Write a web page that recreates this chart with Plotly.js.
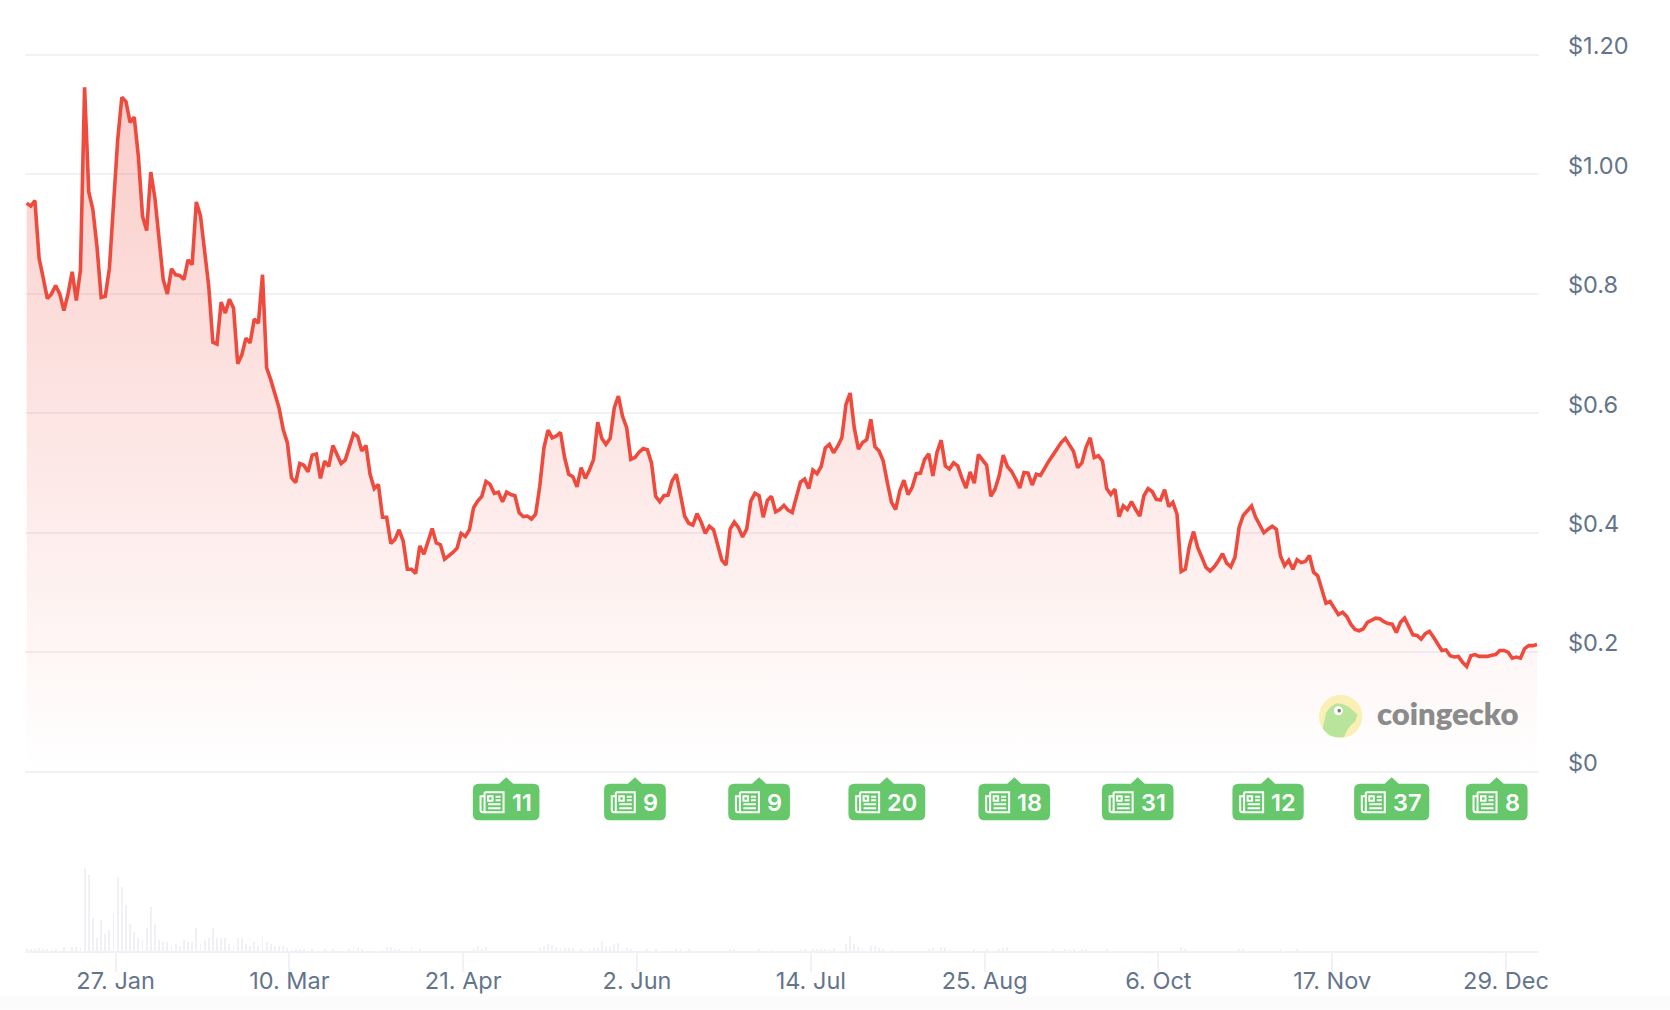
<!DOCTYPE html>
<html>
<head>
<meta charset="utf-8">
<script src="https://cdn.plot.ly/plotly-3.0.1.min.js"></script>
<style>html,body{margin:0;padding:0;background:#fff}#chart{width:1670px;height:1010px}</style>
</head>
<body>
<div id="chart"></div>
<script>
// ---------- data ----------
const firstDay = Date.UTC(2025, 0, 5, 12);
const priceUsd = [
.952,.947,.956,.860,.827,.792,.800,.814,.800,.772,
.800,.837,.789,.840,1.146,.971,.941,.879,.794,.796,
.843,.957,1.058,1.129,1.122,1.087,1.096,1.030,.930,.906,
1.004,.960,.885,.824,.800,.842,.832,.831,.824,.857,
.849,.954,.931,.877,.813,.719,.716,.786,.768,.791,
.776,.683,.698,.726,.718,.758,.751,.832,.676,.656,
.634,.609,.573,.551,.492,.484,.516,.513,.502,.530,
.532,.491,.520,.511,.546,.529,.516,.522,.542,.566,
.561,.537,.546,.498,.474,.481,.426,.426,.382,.389,
.405,.386,.339,.339,.332,.378,.364,.386,.407,.383,
.380,.356,.361,.367,.374,.399,.394,.405,.442,.453,
.461,.486,.481,.466,.468,.452,.468,.464,.462,.434,
.427,.428,
.423,.431,.478,.542,.572,.559,.562,.568,.526,.498,
.494,.477,.509,.491,.505,.523,.585,.558,.548,.558,
.609,.629,.595,.576,.523,.526,.535,.541,.539,.517,
.461,.452,.462,.463,.487,.498,.464,.428,.416,.413,
.432,.418,.399,.411,.405,.378,.354,.346,.406,.418,
.409,.393,.406,.453,.466,.462,.426,.454,.461,.435,
.439,.446,
.438,.434,.457,.485,.490,.474,.505,.499,.511,.542,
.548,.534,.545,.559,.615,.634,.576,.540,.551,.556,
.590,.544,.537,.520,.484,.451,.439,.470,.488,.464,
.476,.499,.500,.523,.532,.495,.535,.555,.512,.507,
.517,.512,.492,.475,.502,.483,.531,.523,.513,.461,
.473,.495,.530,.511,.503,.490,.475,.501,.500,.480,
.498,
.496,.509,.520,.530,.540,.551,.558,.546,.536,.509,
.517,.543,.559,.526,.529,.520,.474,.464,.473,.427,
.445,.439,.452,.439,.428,.462,.474,.469,.456,.455,
.472,.444,.451,.431,.335,.339,.378,.402,.375,.359,
.342,.336,.343,.353,.365,.349,.343,.359,.409,.429,
.438,.445,.426,.413,.400,.406,.411,.406,.361,.345,
.354,.339,
.355,.350,.352,.362,
.334,.328,.306,.282,.285,.275,.263,.267,.260,.247,
.238,.236,.239,.250,.254,.257,.256,.251,.248,.247,
.233,.250,.257,.242,.229,.228,.222,.231,.235,.225,
.214,.203,.204,.194,.192,.193,.183,.176,.194,.196,
.193,.193,.193,.195,.196,.203,.203,.200,.190,.192,
.190,.206,.211,.211,.213
];
const volumeDayIndex = [
0,1,2,3,4,5,6,7,9,11,12,13,14,15,16,17,18,19,20,21,22,23,24,25,26,27,28,29,30,31,32,33,34,35,36,37,38,39,40,41,42,43,44,45,46,47,48,49,50,51,52,53,54,55,56,57,58,59,60,61,62,63,64,65,66,67,69,72,74,78,79,80,81,86,87,88,89,90,93,95,108,109,110,111,
124,125,126,127,128,129,130,131,132,134,136,137,138,139,140,141,142,143,144,145,146,150,152,157,158,160,170,171,177,180,187,188,190,191,192,193,194,195,198,199,200,201,202,204,205,206,207,209,218,219,221,222,223,229,232,235,236,237,248,251,252,253,255,256,261,279,280,293,294,303,307
];
const volumeMillions = [
2,2,2,3,2,2,2,2,4,4,4,4,84,77,33,13,31,17,21,38,75,65,47,27,19,13,11,23,45,27,11,9,9,5,7,5,11,9,9,23,7,11,13,23,13,13,13,7,5,13,13,7,5,9,5,15,9,7,5,5,5,3,2,2,2,2,2,2,2,2,5,3,2,2,4,4,2,2,4,2,2,5,2,4,
3,5,7,6,4,3,3,3,3,2,3,3,4,10,4,4,7,8,3,3,2,2,2,2,2,2,2,2,2,2,2,2,2,2,2,2,2,3,7,15,7,4,3,5,5,3,2,2,2,3,4,4,2,2,2,2,3,4,2,2,2,2,2,2,2,4,2,2,2,2,2
];
const tickDates = ['2025-01-27','2025-03-10','2025-04-21','2025-06-02','2025-07-14','2025-08-25','2025-10-06','2025-11-17','2025-12-29'];
const tickLabels = ['27. Jan','10. Mar','21. Apr','2. Jun','14. Jul','25. Aug','6. Oct','17. Nov','29. Dec'];
const priceTicks = [0,0.2,0.4,0.6,0.8,1,1.2];
const priceTickLabels = ['$0','$0.2','$0.4','$0.6','$0.8','$1.00','$1.20'];
const newsDates = ['2025-05-01T09:00','2025-06-01T12:00','2025-07-01T12:00','2025-08-01T09:00','2025-09-01T04:00','2025-10-01T00:00','2025-11-01T12:00','2025-12-01T09:00','2025-12-26T18:00'];
const newsCounts = ['11','9','9','20','18','31','12','37','8'];

// ---------- helpers ----------
const DAY = 86400000;
const dayDate = i => new Date(firstDay + i * DAY).toISOString().slice(0, 19);
const LABEL = '#64748b', GRID = '#f1f1f6', FONT = 'Inter, sans-serif';
const W = 1670, H = 1010, L = 25, R = 131, T = 51.7, BASE = 951.5, B = H - BASE;
const plotW = W - L - R, plotH = H - T - B;
const badgeAnchor = (BASE - 773) / plotH;    // badges hang from here
const priceBottom = (BASE - 775) / plotH;    // range starts a hair below $0 so its grid line is drawn

const ctx = document.createElement('canvas').getContext('2d');
ctx.font = '600 23.5px Inter';

function badgePath(hw) {
  const top = -11, bot = -47.7, r = 6;
  return `M${-hw + r},${top} H-7 L0,-4.5 L7,${top} H${hw - r} Q${hw},${top} ${hw},${top - r} V${bot + r} Q${hw},${bot} ${hw - r},${bot} H${-hw + r} Q${-hw},${bot} ${-hw},${bot + r} V${top - r} Q${-hw},${top} ${-hw + r},${top} Z`;
}
function iconPath(x, y) {
  const X = v => x + v, Y = v => y - v;
  return `M${X(4)},${Y(0)} H${X(23)} V${Y(20)} H${X(2.5)} Q${X(0)},${Y(20)} ${X(0)},${Y(17.5)} V${Y(4)} H${X(4)} ` +
    `M${X(4)},${Y(0)} V${Y(17.5)} Q${X(4)},${Y(20)} ${X(2.5)},${Y(20)} ` +
    `M${X(7.5)},${Y(4)} H${X(12)} V${Y(8.5)} H${X(7.5)} Z ` +
    `M${X(15)},${Y(4.5)} H${X(20)} M${X(15)},${Y(8)} H${X(20)} M${X(7.5)},${Y(12)} H${X(20)} M${X(7.5)},${Y(16)} H${X(20)}`;
}

const shapes = [{
  type: 'rect', xref: 'paper', yref: 'paper', layer: 'below',
  x0: -L / plotW, x1: 1 + R / plotW, y0: -B / plotH, y1: (BASE - 997) / plotH,
  fillcolor: '#fbfbfb', line: { width: 0 }
}];
const annotations = [];

newsDates.forEach((d, k) => {
  const textW = ctx.measureText(newsCounts[k]).width;
  const hw = (7.7 + 23.3 + 8.2 + textW + 7.5) / 2;
  const common = { xref: 'x', yref: 'paper', xsizemode: 'pixel', ysizemode: 'pixel', xanchor: d, yanchor: badgeAnchor, layer: 'above' };
  shapes.push(Object.assign({ type: 'path', path: badgePath(hw), fillcolor: '#66c86b', line: { width: 0 } }, common));
  shapes.push(Object.assign({ type: 'path', path: iconPath(-hw + 7.7, -19.5), line: { color: '#ffffff', width: 2 } }, common));
  annotations.push({
    xref: 'x', yref: 'paper', x: d, y: badgeAnchor, xanchor: 'left', yanchor: 'middle',
    xshift: -hw + 37, yshift: -29.5, showarrow: false, text: newsCounts[k],
    font: { family: FONT, size: 23.5, color: '#ffffff', weight: 600 }
  });
});

// CoinGecko mark
const logoX = (1340.7 - L) / plotW, logoY = (BASE - 716.7) / plotH;
const logoRef = { xref: 'paper', yref: 'paper', xsizemode: 'pixel', ysizemode: 'pixel', xanchor: logoX, yanchor: logoY, layer: 'above', line: { width: 0 } };
shapes.push(Object.assign({ type: 'circle', x0: -21.6, x1: 21.6, y0: -21.6, y1: 21.6, fillcolor: '#faefb4' }, logoRef));
shapes.push(Object.assign({ type: 'path', path: 'M-18,-12 L-14.7,3.3 Q-11,10 -5,12.7 Q3,13.5 9.3,8.3 L17,1.7 L14.3,-5 Q7,-10 3.3,-20.7 Q-4,-22 -11,-19 Q-15,-16 -18,-12 Z', fillcolor: '#b8e59b' }, logoRef));
shapes.push(Object.assign({ type: 'circle', x0: -6.8, x1: 2.2, y0: 1.2, y1: 10.2, fillcolor: '#ffffff' }, logoRef));
shapes.push(Object.assign({ type: 'circle', x0: -3.2, x1: 0.2, y0: 3.8, y1: 7.6, fillcolor: '#77797a' }, logoRef));
annotations.push({
  xref: 'paper', yref: 'paper', x: (1375 - L) / plotW, y: (BASE - 713) / plotH, xanchor: 'left', yanchor: 'middle',
  showarrow: false, text: 'coingecko', font: { family: 'Lato, sans-serif', size: 31, color: '#8b8b8b', weight: 800 }
});

// ---------- traces ----------
const price = {
  type: 'scatter', mode: 'lines', xaxis: 'x', yaxis: 'y',
  x: priceUsd.map((_, i) => dayDate(i)), y: priceUsd,
  line: { color: '#ee4b3e', width: 3.6, shape: 'linear' },
  fill: 'tozeroy',
  fillgradient: {
    type: 'vertical', start: 0, stop: 1.15,
    colorscale: [[0, 'rgba(238,75,62,0.0)'], [1, 'rgba(238,75,62,0.28)']]
  },
  hoverinfo: 'skip', showlegend: false
};
const volume = {
  type: 'bar', xaxis: 'x', yaxis: 'y2',
  x: volumeDayIndex.map(dayDate), y: volumeMillions,
  width: 0.45 * DAY,
  marker: { color: '#f0f0f5', line: { width: 0 } },
  hoverinfo: 'skip', showlegend: false
};

const layout = {
  width: W, height: H,
  margin: { l: L, r: R, t: T, b: B, pad: 0 },
  paper_bgcolor: 'rgba(0,0,0,0)', plot_bgcolor: 'rgba(0,0,0,0)',
  showlegend: false, hovermode: false,
  bargap: 0,
  xaxis: {
    type: 'date', anchor: 'y2',
    range: ['2025-01-05 02:24', '2026-01-05 23:20'],
    tickmode: 'array', tickvals: tickDates, ticktext: tickLabels,
    ticks: 'outside', ticklen: 19, tickwidth: 2, tickcolor: GRID,
    ticklabelstandoff: -11,
    showgrid: false, zeroline: false,
    showline: true, linecolor: GRID, linewidth: 2,
    tickfont: { family: FONT, size: 23.5, color: LABEL }, tickangle: 0
  },
  yaxis: {
    domain: [priceBottom, 1], range: [-0.005, 1.205], anchor: 'x', side: 'right',
    tickmode: 'array', tickvals: priceTicks, ticktext: priceTickLabels,
    ticks: '', ticklabelstandoff: 28, ticklabelshift: -9,
    showgrid: true, gridcolor: GRID, gridwidth: 2,
    zeroline: false, showline: false,
    tickfont: { family: FONT, size: 23.5, color: LABEL }
  },
  yaxis2: {
    domain: [0, (BASE - 868) / plotH], range: [0, 84.5], anchor: 'x',
    showticklabels: false, ticks: '', showgrid: false, zeroline: false, showline: false
  },
  shapes, annotations
};

Plotly.newPlot('chart', [price, volume], layout, { displayModeBar: false, staticPlot: true });
</script>
</body>
</html>
